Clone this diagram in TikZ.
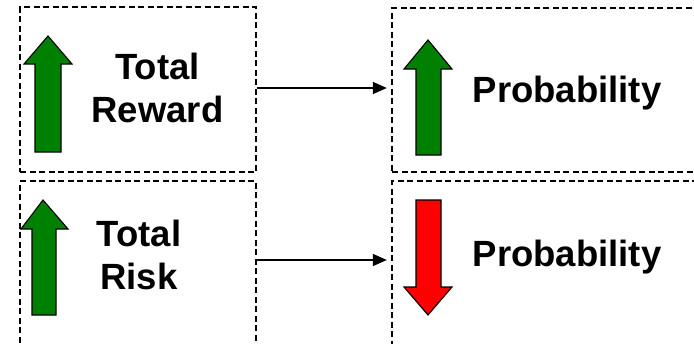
\documentclass[tikz,border=0pt]{standalone}
\usepackage{fontspec}
\setmainfont{Liberation Sans}
\usetikzlibrary{arrows.meta}
\definecolor{upgreen}{RGB}{0,128,0}
\definecolor{downred}{RGB}{255,0,0}
\tikzset{
  panel/.style={draw=black, line width=1.3pt, dash pattern=on 6pt off 3.5pt, inner sep=0pt},
  label/.style={font=\bfseries\fontsize{36.5}{43}\selectfont, align=center, inner sep=0pt},
  uparrow/.style={draw=black, line width=1.1pt, fill=upgreen, line join=miter},
  downarrow/.style={draw=black, line width=1.1pt, fill=downred, line join=miter},
  link/.style={draw=black, line width=1.3pt, -{Triangle[length=14pt,width=12pt]}, shorten >=4.5pt}
}
\begin{document}
\begin{tikzpicture}[x=1pt, y=-1pt]
  \clip (0,0) rectangle (694,343);
  \fill[white] (0,0) rectangle (694,343);

  % dashed panels
  \node[panel, minimum width=236pt, minimum height=165pt] (reward) at (138,89.5) {};
  \node[panel, minimum width=348pt, minimum height=164pt] (probup) at (566,90) {};
  \node[panel, minimum width=236pt, minimum height=199pt] (risk) at (138,280.5) {};
  \node[panel, minimum width=348pt, minimum height=199pt] (probdown) at (566,280.5) {};

  % block arrows
  \path[uparrow] (48,36) -- (72,64) -- (61,64) -- (61,152) -- (35,152) -- (35,64) -- (24,64) -- cycle;
  \path[uparrow] (43,200) -- (68,229) -- (56,229) -- (56,315) -- (32,315) -- (32,229) -- (21,229) -- cycle;
  \path[uparrow] (428,40) -- (452,69) -- (441,69) -- (441,155) -- (416,155) -- (416,69) -- (404,69) -- cycle;
  \path[downarrow] (416,200) -- (441,200) -- (441,287) -- (452,287) -- (428,315) -- (404,287) -- (416,287) -- cycle;

  % labels
  \node[label] (rewardtext) at (157.5,88) {Total\\Reward};
  \node[label] (risktext) at (139,254.5) {Total\\Risk};
  \node[label, anchor=base] (probuptext) at (567,102) {Probability};
  \node[label, anchor=base] (probdowntext) at (567,266) {Probability};

  % connectors
  \draw[link] (reward.east |- 0,88) -- (probup.west |- 0,88);
  \draw[link] (risk.east |- 0,260) -- (probdown.west |- 0,260);
\end{tikzpicture}
\end{document}
